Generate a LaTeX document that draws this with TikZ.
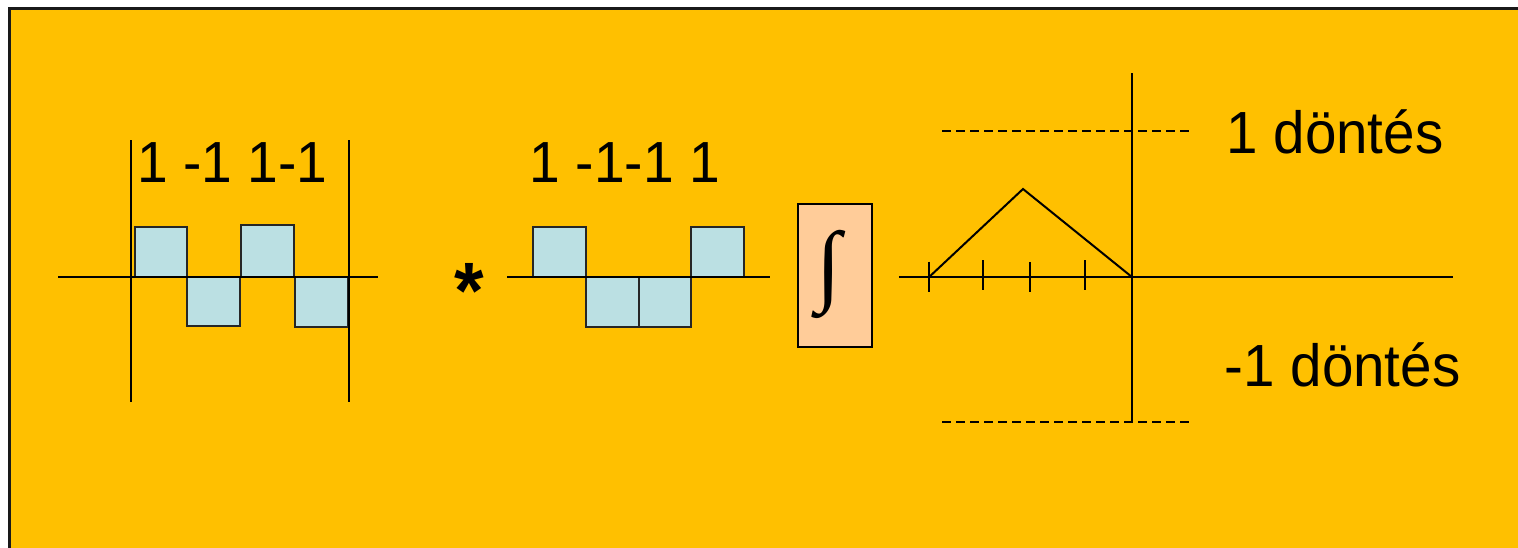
\documentclass[tikz,border=0pt]{standalone}
\usepackage{fontspec}
\setmainfont[FakeStretch=0.95]{Liberation Sans}
\newfontfamily\intfont{Liberation Serif}
\definecolor{bgorange}{HTML}{FFC000}
\definecolor{sqblue}{HTML}{BBE0E3}
\definecolor{peach}{HTML}{FFCC99}
\begin{document}
\begin{tikzpicture}[x=1pt,y=-1pt,
  ln/.style={line width=2pt,black},
  sq/.style={draw=black!85,line width=2pt,fill=sqblue},
  lbl/.style={inner sep=0pt,anchor=base west,font=\fontsize{58}{70}\selectfont},
  dlbl/.style={inner sep=0pt,anchor=base west,font=\fontsize{59.5}{72}\selectfont},
  dsh/.style={line width=2pt,dash pattern=on 9pt off 5pt}]
\useasboundingbox (0,0) rectangle (1518,548);
% background panel
\fill[white] (0,0) rectangle (1518,548);
\filldraw[fill=bgorange,draw=black!90,line width=3pt] (9.5,9) rectangle (1530,560);
% ---- first code
\draw[sq] (135,227) rectangle (187,276.7);
\draw[sq] (187,276.7) rectangle (240,326);
\draw[sq] (241,225) rectangle (294,276.7);
\draw[sq] (295,276.7) rectangle (348,326.5);
\draw[ln] (58,276.7) -- (378,276.7);
\draw[ln] (131,140.5) -- (131,402);
\draw[ln] (349,140.5) -- (349,402);
\node[lbl] (codeA) at (137,182.6) {1 -1 1-1};
% ---- multiply
\node[inner sep=0pt,anchor=base,font=\bfseries\fontsize{80}{90}\selectfont] (mul) at (469,318) {*};
% ---- second code
\draw[sq] (532.7,227.3) rectangle (586,276.7);
\draw[sq] (586,276.7) rectangle (638.7,326.7);
\draw[sq] (638.7,276.7) rectangle (691,326.7);
\draw[sq] (691,227.3) rectangle (744,276.7);
\draw[ln] (507,276.7) -- (770,276.7);
\node[lbl] (codeB) at (529.7,182.7) {1 -1-1 1};
% ---- integrator
\node[draw=black,line width=2pt,fill=peach,minimum width=74pt,minimum height=143pt,inner sep=0pt]
  (intbox) at (834.7,275.7) {};
\node[inner sep=0pt,font=\intfont\fontsize{90}{100}\selectfont] (intsign) at (829,274) {∫};
% ---- decision plot
\draw[ln] (898.8,277.3) -- (1452.7,277.3);
\draw[ln] (1132.3,73.3) -- (1132.3,421.7);
\draw[dsh] (942,131) -- (1191,131);
\draw[dsh] (942,421.7) -- (1191,421.7);
\draw[ln] (928.8,261.7) -- (928.8,292.3);
\draw[ln] (982.9,260) -- (982.9,290);
\draw[ln] (1030,262) -- (1030,291.7);
\draw[ln] (1084.6,260) -- (1084.6,290);
\draw[ln,line join=miter] (928.8,277.3) -- (1023,189) -- (1132.3,277.3);
\node[dlbl] (dpos) at (1226.4,154) {1 döntés};
\node[dlbl] (dneg) at (1224.5,386) {-1 döntés};
\end{tikzpicture}
\end{document}
